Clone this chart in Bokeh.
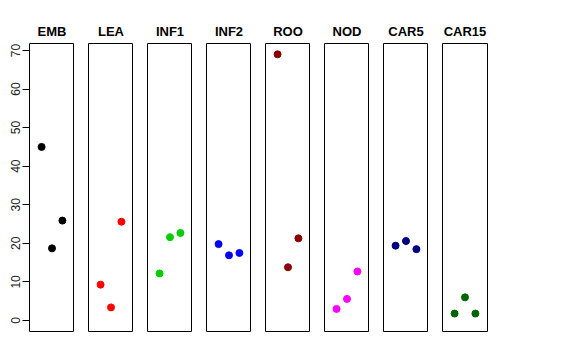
from bokeh.plotting import figure
from bokeh.layouts import row
from bokeh.models import FixedTicker, ColumnDataSource
from bokeh.embed import file_html
from bokeh.resources import INLINE

categories = ["EMB", "LEA", "INF1", "INF2", "ROO", "NOD", "CAR5", "CAR15"]
colors = ["black", "red", "#00CD00", "blue", "#8B0000", "magenta", "#000080", "#006400"]
xpos = [1, 2, 3]
values = {
    "EMB": [45.0, 18.7, 25.9],
    "LEA": [9.3, 3.4, 25.6],
    "INF1": [12.2, 21.6, 22.7],
    "INF2": [19.8, 16.9, 17.5],
    "ROO": [69.0, 13.8, 21.3],
    "NOD": [3.0, 5.6, 12.7],
    "CAR5": [19.4, 20.6, 18.5],
    "CAR15": [1.8, 6.0, 1.8],
}
yticks = [0, 10, 20, 30, 40, 50, 60, 70]

FONT = "Liberation Sans"
figs = []
for i, (cat, col) in enumerate(zip(categories, colors)):
    first = i == 0
    p = figure(
        output_backend="svg", toolbar_location=None,
        frame_width=45, frame_height=288,
        x_range=(-0.16, 4.16), y_range=(-2.85, 71.8),
        x_axis_location=None, y_axis_location="left" if first else None,
        min_border_left=29 if first else 14,
        min_border_right=0 if i < 7 else 10,
        min_border_top=43, min_border_bottom=10,
        title=cat,
    )
    p.title.align = "center"
    p.title.text_font = FONT
    p.title.text_font_style = "bold"
    p.title.text_font_size = "13px"
    p.title.text_color = "black"
    p.title.standoff = 9
    p.outline_line_color = "black"
    p.outline_line_width = 1
    p.outline_line_alpha = 1
    p.xgrid.visible = False
    p.ygrid.visible = False
    p.background_fill_color = "white"
    p.border_fill_color = "white"
    if first:
        ax = p.yaxis[0]
        ax.ticker = FixedTicker(ticks=yticks)
        ax.bounds = (0, 70)
        ax.major_tick_out = 7
        ax.major_tick_in = 0
        ax.minor_tick_out = 0
        ax.minor_tick_in = 0
        ax.major_label_orientation = "vertical"
        ax.major_label_standoff = 2
        ax.major_label_text_font = FONT
        ax.major_label_text_font_size = "12px"
        ax.major_label_text_color = "#222222"
        ax.axis_line_color = "black"
        ax.major_tick_line_color = "black"
    src = ColumnDataSource(dict(x=xpos, y=values[cat]))
    p.scatter("x", "y", source=src, size=7, color=col, line_color=col)
    figs.append(p)

layout = row(figs, spacing=0)
open("out.html", "w").write(file_html(layout, INLINE))
